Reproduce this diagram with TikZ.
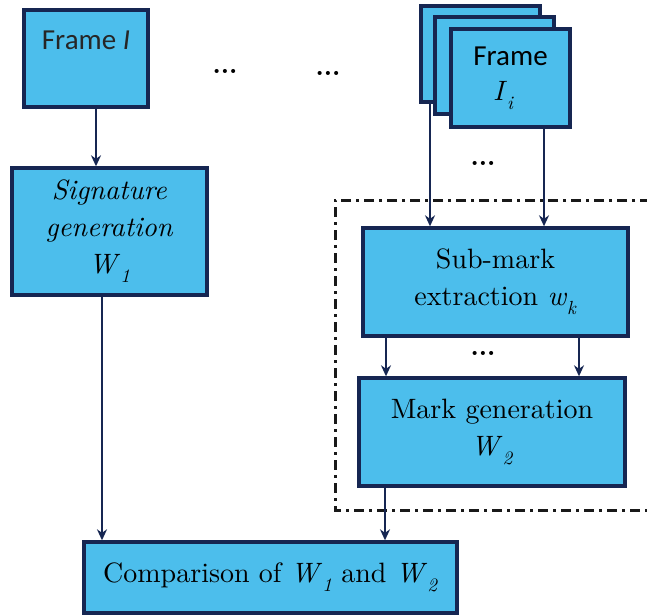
\documentclass[tikz,border=0pt]{standalone}
\usepackage{fontspec}
\setmainfont{lmroman10}[Extension=.otf, UprightFont=*-regular, ItalicFont=*-italic, BoldFont=*-bold, BoldItalicFont=*-bolditalic]
\setsansfont{Carlito}
\usetikzlibrary{arrows.meta}
\definecolor{boxfill}{RGB}{76,190,236}
\definecolor{boxline}{RGB}{22,38,82}
\newcommand{\lowsub}[1]{\raisebox{-0.32em}{\fontsize{19}{19}\selectfont\textit{#1}}}
\tikzset{
  box/.style={draw=boxline, fill=boxfill, line width=3.4pt, inner sep=0pt, align=center,
              font=\rmfamily\fontsize{28}{37}\selectfont, text=black},
  arr/.style={draw=boxline, line width=2.8pt, -{Stealth[length=11pt,width=10pt]}},
  dotsn/.style={font=\rmfamily\fontsize{26}{26}\selectfont\bfseries, inner sep=0pt},
  frameline/.style={draw=black!90, line width=3pt, dash pattern=on 10pt off 5pt on 3pt off 5pt}
}
\begin{document}
\begin{tikzpicture}[x=1pt,y=-1pt]
\useasboundingbox (0,0) rectangle (647,615);
% dash-dot frame (open to the right)
\draw[frameline] (650,200) -- (335,200) -- (335,510) -- (650,510);
% left column
\node[box, minimum width=124pt, minimum height=97pt] (fI) at (86,58.5) {};
\node[font=\sffamily\fontsize{29}{34}\selectfont, text=black!85, anchor=center] (fIt) at (86,40) {Frame \textit{I}};
\node[box, minimum width=195pt, minimum height=127pt] (sig) at (109.5,231.5)
  {\textit{Signature}\\ \textit{generation}\\ \textit{W}\lowsub{1}};
% stacked frames
\node[box, minimum width=119pt, minimum height=96pt] (fb) at (480.5,54) {};
\node[box, minimum width=119pt, minimum height=97pt] (fm) at (494.5,65.5) {};
\node[box, minimum width=119pt, minimum height=98pt, align=center] (ff) at (510.5,78)
  {{\sffamily\fontsize{29}{34}\selectfont Frame}\\[-2pt] \hspace*{-14pt}\textit{I}\lowsub{i}};
% right processing
\node[box, minimum width=265pt, minimum height=108pt] (sub) at (495.5,282)
  {Sub-mark\\ extraction \textit{w}\lowsub{k}};
\node[box, minimum width=266pt, minimum height=108pt] (mark) at (492,432)
  {Mark generation\\ \textit{W}\lowsub{2}};
\node[box, minimum width=373pt, minimum height=71pt] (comp) at (270.5,577.5)
  {Comparison of \textit{W}\lowsub{1} and \textit{W}\lowsub{2}};
% dots
\node[dotsn] (d1) at (225,71) {...};
\node[dotsn] (d2) at (328,73) {...};
\node[dotsn] (d3) at (483,163) {...};
\node[dotsn] (d4) at (483,353) {...};
% x reference coordinates
\coordinate (xa) at (96,0);
\coordinate (xb) at (102,0);
\coordinate (xc) at (430,0);
\coordinate (xd) at (544,0);
\coordinate (xe) at (386,0);
\coordinate (xf) at (579,0);
\coordinate (xg) at (385,0);
% connectors
\draw[arr] (fI.south -| xa) -- (sig.north -| xa);
\draw[arr] (sig.south -| xb) -- (comp.north -| xb);
\draw[arr] (fb.south -| xc) -- (sub.north -| xc);
\draw[arr] (ff.south -| xd) -- (sub.north -| xd);
\draw[arr] (sub.south -| xe) -- (mark.north -| xe);
\draw[arr] (sub.south -| xf) -- (mark.north -| xf);
\draw[arr] (mark.south -| xg) -- (comp.north -| xg);
\end{tikzpicture}
\end{document}
